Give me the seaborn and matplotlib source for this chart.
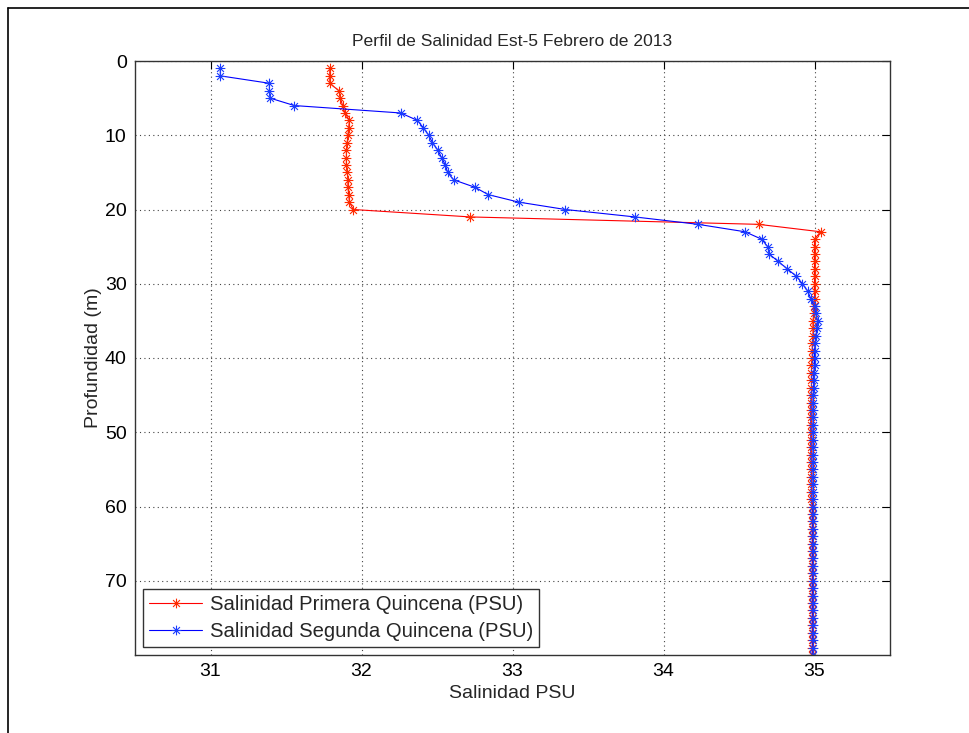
import numpy as np
import pandas as pd
import matplotlib
matplotlib.use("Agg")
import matplotlib.pyplot as plt
from matplotlib.path import Path
from matplotlib.lines import Line2D
import seaborn as sns

# ---------------- data ----------------
depth = list(range(1, 81))

sal_primera = [
    31.79, 31.79, 31.79, 31.85, 31.86, 31.875, 31.89, 31.92, 31.915, 31.91,
    31.905, 31.90, 31.90, 31.90, 31.905, 31.91, 31.91, 31.915, 31.92, 31.945,
    32.72, 34.63, 35.04, 35.00, 35.00, 35.00, 35.00, 35.00, 35.00, 35.00,
    35.00, 35.00, 34.995, 34.995, 34.99, 34.99, 34.99, 34.985, 34.985, 34.985,
    34.98, 34.98, 34.98, 34.98, 34.98, 34.975, 34.975, 34.975, 34.975, 34.975,
    34.975, 34.975, 34.975, 34.98, 34.98, 34.98, 34.98, 34.98, 34.98, 34.985,
    34.985, 34.985, 34.985, 34.985, 34.985, 34.985, 34.985, 34.985, 34.985, 34.985,
    34.985, 34.985, 34.985, 34.985, 34.985, 34.985, 34.985, 34.985, 34.985, 34.985,
]

sal_segunda = [
    31.065, 31.065, 31.39, 31.39, 31.395, 31.555, 32.26, 32.37, 32.41, 32.445,
    32.47, 32.505, 32.53, 32.555, 32.57, 32.61, 32.75, 32.84, 33.04, 33.35,
    33.81, 34.23, 34.54, 34.65, 34.69, 34.70, 34.76, 34.82, 34.88, 34.92,
    34.955, 34.975, 35.00, 35.01, 35.02, 35.015, 35.01, 35.005, 35.00, 35.00,
    35.00, 34.995, 34.995, 34.995, 34.99, 34.99, 34.99, 34.99, 34.99, 34.99,
    34.99, 34.99, 34.99, 34.99, 34.99, 34.99, 34.99, 34.99, 34.99, 34.99,
    34.99, 34.99, 34.99, 34.99, 34.99, 34.99, 34.99, 34.99, 34.99, 34.99,
    34.99, 34.99, 34.99, 34.99, 34.99, 34.99, 34.99, 34.99, 34.99, 34.99,
]

x_ticks = [31, 32, 33, 34, 35]
y_ticks = [0, 10, 20, 30, 40, 50, 60, 70]

title = "Perfil de Salinidad Est-5 Febrero de 2013"
xlabel = "Salinidad PSU"
ylabel = "Profundidad (m)"
label_primera = "Salinidad Primera Quincena (PSU)"
label_segunda = "Salinidad Segunda Quincena (PSU)"

# ---------------- style ----------------
sns.set_theme(style="white")
plt.rcParams["font.family"] = ["Liberation Sans", "DejaVu Sans"]

# MATLAB-like asterisk marker (8 spokes, stroked)
_v = []
_c = []
for ang in np.deg2rad([0, 45, 90, 135]):
    dx, dy = np.cos(ang), np.sin(ang)
    _v += [(-dx, -dy), (dx, dy)]
    _c += [Path.MOVETO, Path.LINETO]
star = Path(_v, _c)

fig = plt.figure(figsize=(9.70, 7.33), dpi=100)
ax = fig.add_axes([135 / 970, 1 - 655 / 733, (890 - 135) / 970, (655 - 61) / 733])

df1 = pd.DataFrame({"sal": sal_primera, "depth": depth})
df2 = pd.DataFrame({"sal": sal_segunda, "depth": depth})

common = dict(x="sal", y="depth", orient="y", sort=False, estimator=None,
              marker=star, markersize=7, markeredgewidth=0.8,
              linewidth=0.8, ax=ax)
sns.lineplot(data=df1, color="#ff0000", markeredgecolor="#ff2a00",
             label=label_primera, **common)
sns.lineplot(data=df2, color="#0000ff", markeredgecolor="#1a3cff",
             label=label_segunda, **common)

ax.set_xlim(30.5, 35.5)
ax.set_ylim(80, 0)
ax.set_xticks(x_ticks)
ax.set_yticks(y_ticks)
ax.set_xticklabels([str(t) for t in x_ticks])
ax.set_yticklabels([str(t) for t in y_ticks])

ax.tick_params(direction="in", length=6, width=0.8, top=True, right=True,
               labelsize=14, colors="black", pad=6)
for s in ax.spines.values():
    s.set_color("#333333")
    s.set_linewidth(1.0)

ax.grid(True, linestyle=(0, (1, 3)), color="#444444", linewidth=0.8)

ax.set_title(title, fontsize=12.6, pad=11)
ax.set_xlabel(xlabel, fontsize=14, labelpad=3)
ax.set_ylabel(ylabel, fontsize=14, labelpad=2)

leg = ax.legend(loc="lower left", fontsize=14.6, frameon=True, fancybox=False,
                edgecolor="#333333", framealpha=1, handlelength=2.6,
                borderaxespad=0.4, borderpad=0.3, labelspacing=0.4,
                handletextpad=0.4)
leg.get_frame().set_linewidth(1.0)

# figure frame (left and top edges)
fig.add_artist(Line2D([8 / 970, 8 / 970], [0, 1 - 8 / 733], transform=fig.transFigure,
                      color="black", linewidth=1.2))
fig.add_artist(Line2D([8 / 970, 1], [1 - 8 / 733, 1 - 8 / 733], transform=fig.transFigure,
                      color="black", linewidth=1.2))

fig.savefig("out.png", dpi=100)
